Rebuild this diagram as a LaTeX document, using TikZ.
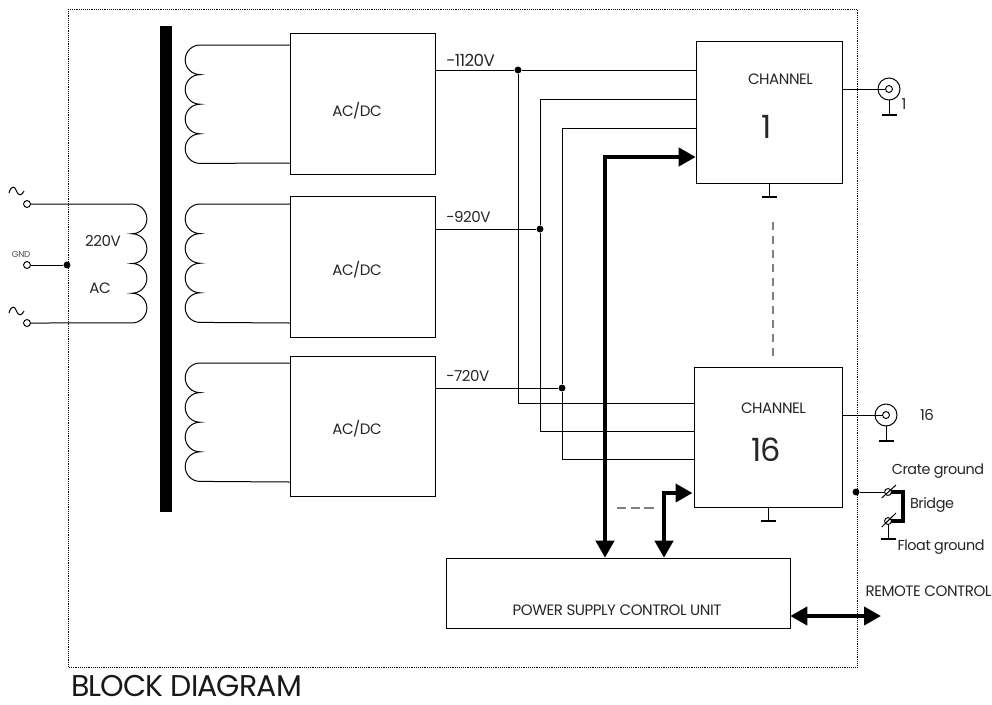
\documentclass[tikz,border=0pt]{standalone}
\usepackage{fontspec}
\setmainfont[LetterSpace=-3]{Poppins}
\usetikzlibrary{arrows.meta,positioning,calc}
\tikzset{
  block/.style={draw, thin, inner sep=0pt},
  wire/.style={line width=0.75pt},
  bus/.style={line width=3pt, {Triangle[length=12.75pt,width=13.5pt]}-{Triangle[length=12.75pt,width=13.5pt]}},
  dotjoin/.style={circle, fill=black, inner sep=0pt, minimum size=5.2pt},
  term/.style={circle, draw, fill=white, line width=0.7pt, inner sep=0pt, minimum size=5.2pt},
  coaxring/.style={circle, draw, line width=0.75pt, inner sep=0pt, minimum size=16.5pt},
  gndbar/.style={line width=2pt},
  dashline/.style={line width=0.9pt, gray, dash pattern=on 7pt off 3.2pt},
  lbl/.style={inner sep=0pt, font=\fontsize{11.3}{13}\selectfont, text=black!85},
  gndlbl/.style={inner sep=0pt, font=\fontsize{10.8}{12}\selectfont, text=black!85},
  voltlbl/.style={inner sep=0pt, anchor=west, font=\fontsize{11.3}{13}\selectfont, text=black!85},
  numlbl/.style={inner sep=0pt, font=\fontsize{24}{26}\selectfont, text=black!85},
}
\begin{document}
\begin{tikzpicture}[x=0.75pt, y=-0.75pt]
  \useasboundingbox (0,0) rectangle (992,704);
  % frame
  \draw[densely dotted, thin] (68,9) rectangle (857,667);
  \fill (160,26) rectangle (172,512);
  \node[inner sep=0pt, font=\fontsize{22.5}{24}\selectfont, text=black!90] (title) at (186.5,686.5) {BLOCK DIAGRAM};
  % mains
  \node[term] (acA) at (27,204) {};
  \node[term] (acG) at (27,265) {};
  \node[term] (acB) at (27,323) {};
  \node[dotjoin] (gndjoin) at (67,265) {};
  \draw[wire] (acG) -- (gndjoin);
  \draw[wire] (acA) -- (132,204) arc[start angle=-90, end angle=90, radius=14.87] arc[start angle=-90, end angle=90, radius=14.87] arc[start angle=-90, end angle=90, radius=14.87] arc[start angle=-90, end angle=90, radius=14.87] -- (acB);
  \node[inner sep=0pt, font=\fontsize{6.5}{7}\selectfont, text=black!70] (gndtext) at (21,254) {GND};
  \node[lbl] (volts) at (103,241) {220V};
  \node[lbl] (aclbl) at (100,288) {AC};
  \foreach \y in {193,313}{
    \draw[wire] (9,\y) .. controls (11,\y-8) and (15,\y-7) .. (16.5,\y-2) .. controls (18,\y+3) and (22,\y+3) .. (24,\y-2);
  }
  % AC/DC
  \node[block, minimum width=109pt, minimum height=105.75pt] (dc1) at (362.5,103.5) {};
  \node[block, minimum width=109pt, minimum height=105.75pt] (dc2) at (362.5,266.5) {};
  \node[block, minimum width=109pt, minimum height=105pt] (dc3) at (362.5,426) {};
  \node[lbl] (dc1lbl) at (357,111) {AC/DC};
  \node[lbl] (dc2lbl) at (357,270) {AC/DC};
  \node[lbl] (dc3lbl) at (357,429) {AC/DC};
  % secondaries
  \foreach \t/\b in {45/163,204/323,363/482}{
    \draw[wire] (290,\t) -- (200,\t) arc[start angle=-90, end angle=-270, radius=14.8] arc[start angle=-90, end angle=-270, radius=14.8] arc[start angle=-90, end angle=-270, radius=14.8] arc[start angle=-90, end angle=-270, radius=14.8] -- (290,\b);
  }
  % channels
  \node[block, minimum width=109.5pt, minimum height=106.5pt] (ch1) at (769,112) {};
  \node[block, minimum width=111pt, minimum height=105pt] (ch16) at (768,437) {};
  \node[lbl] (ch1lbl) at (780.5,79) {CHANNEL};
  \node[lbl] (ch16lbl) at (773.5,408) {CHANNEL};
  \node[numlbl] (ch1num) at (767,127) {1};
  \node[numlbl] (ch16num) at (766,450) {16};
  \node[block, minimum width=258pt, minimum height=52.5pt] (psu) at (618,593) {};
  \node[lbl] (psulbl) at (617,610) {POWER SUPPLY CONTROL UNIT};
  % rails
  \node[dotjoin] (j1) at (518,70) {};
  \node[dotjoin] (j2) at (540,229) {};
  \node[dotjoin] (j3) at (562,388) {};
  \node[voltlbl, font=\fontsize{12.5}{14}\selectfont] (v1) at (446,60) {-1120V};
  \node[voltlbl] (v2) at (446,217) {-920V};
  \node[voltlbl] (v3) at (446,376) {-720V};
  \draw[wire] (dc1.east |- j1) -- (j1) -- (ch1.west |- j1);
  \draw[wire] (dc2.east |- j2) -- (j2);
  \draw[wire] (dc3.east |- j3) -- (j3);
  \draw[wire] (ch1.west |- 0,99) -- (540,99) -- (j2);
  \draw[wire] (ch1.west |- 0,128) -- (562,128) -- (j3);
  \draw[wire] (j1) -- (518,403) -- (ch16.west |- 0,403);
  \draw[wire] (j2) -- (540,431) -- (ch16.west |- 0,431);
  \draw[wire] (j3) -- (562,459) -- (ch16.west |- 0,459);
  % buses
  \draw[bus] (ch1.west |- 0,157) -- (605,157) -- (605,0 |- psu.north);
  \draw[bus] (692.5,493) -- (664,493) -- (664,0 |- psu.north);
  \coordinate (remote) at (881,616);
  \draw[bus] (psu.east |- remote) -- (remote);
  \draw[dashline] (617,508) -- (654,508);
  \draw[dashline, dash pattern=on 6pt off 4.5pt] (773,222) -- (773,356);
  % outputs
  \node[coaxring] (out1) at (889,89) {};
  \node[coaxring] (out16) at (886,415) {};
  \node[term] (pin1) at (889,89) {};
  \node[term] (pin16) at (886,415) {};
  \draw[wire] (ch1.east |- out1) -- (pin1);
  \draw[wire] (ch16.east |- out16) -- (pin16);
  \node[lbl] (out1lbl) at (904,104) {1};
  \node[lbl] (out16lbl) at (927,415) {16};
  % crate ground
  \node[dotjoin] (crate) at (856,492) {};
  \draw[line width=3.5pt] (888,492) -- (903,492) -- (903,521) -- (888,521);
  \node[term] (pinC) at (888,492) {};
  \node[term] (pinF) at (888,521) {};
  \draw[wire] (crate) -- (pinC);
  \draw[wire] (881.7,498) -- (896,485);
  \draw[wire] (881.7,527) -- (896,513);
  \node[gndlbl] (cratelbl) at (938,471) {Crate ground};
  \node[gndlbl] (bridgelbl) at (932,505) {Bridge};
  \node[gndlbl] (floatlbl) at (941,547) {Float ground};
  \node[lbl] (remotelbl) at (928.5,591) {REMOTE CONTROL};
  % ground symbols
  \foreach \x/\ya/\yb in {769/183/197,768/507/521,889/100/115,886/426/441,888/524/539}{
    \draw[wire] (\x,\ya) -- (\x,\yb);
    \draw[gndbar] (\x-7.5,\yb) -- (\x+7.5,\yb);
  }
\end{tikzpicture}
\end{document}
